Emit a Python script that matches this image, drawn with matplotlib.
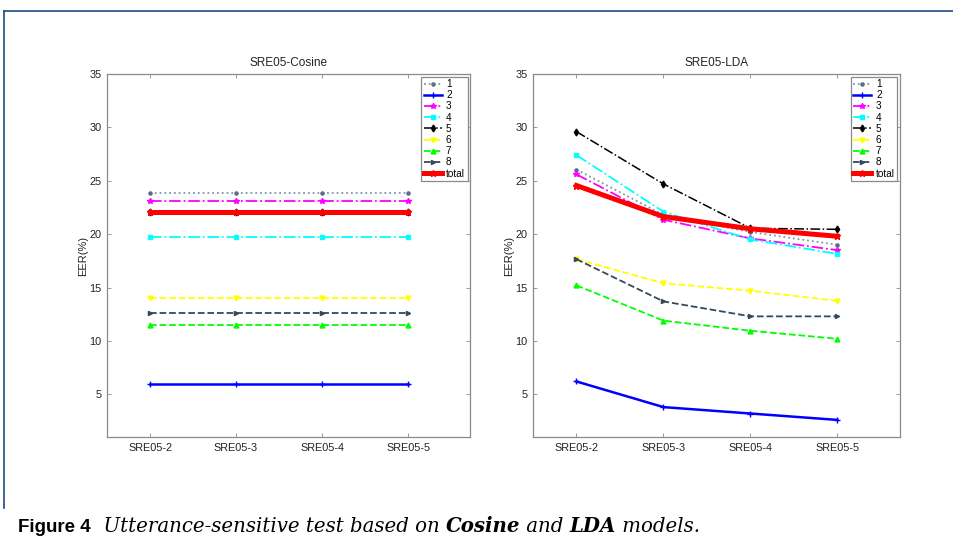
import numpy as np
import matplotlib.pyplot as plt
from matplotlib.offsetbox import TextArea, HPacker, AnchoredOffsetbox
from matplotlib.lines import Line2D

plt.rcParams['font.family'] = ['Liberation Sans', 'DejaVu Sans']

# condicoes de teste (eixo x)
conds = ['SRE05-2', 'SRE05-3', 'SRE05-4', 'SRE05-5']
labels = ['1', '2', '3', '4', '5', '6', '7', '8', 'total']

# EER(%) - modelo Cosine
cos_1 = [23.85, 23.85, 23.85, 23.85]
cos_2 = [5.95, 5.95, 5.95, 5.95]
cos_3 = [23.1, 23.1, 23.1, 23.1]
cos_4 = [19.7, 19.7, 19.7, 19.7]
cos_5 = [22.05, 22.05, 22.05, 22.05]
cos_6 = [14.05, 14.05, 14.05, 14.05]
cos_7 = [11.45, 11.45, 11.45, 11.45]
cos_8 = [12.6, 12.6, 12.6, 12.6]
cos_total = [22.05, 22.05, 22.05, 22.05]

# EER(%) - modelo LDA
lda_1 = [26.05, 21.8, 20.2, 19.0]
lda_2 = [6.2, 3.8, 3.2, 2.6]
lda_3 = [25.6, 21.35, 19.6, 18.5]
lda_4 = [27.4, 22.1, 19.5, 18.15]
lda_5 = [29.6, 24.7, 20.55, 20.45]
lda_6 = [17.65, 15.4, 14.7, 13.75]
lda_7 = [15.2, 11.9, 10.95, 10.2]
lda_8 = [17.65, 13.7, 12.3, 12.3]
lda_total = [24.55, 21.65, 20.5, 19.8]

cosine = [cos_1, cos_2, cos_3, cos_4, cos_5, cos_6, cos_7, cos_8, cos_total]
lda = [lda_1, lda_2, lda_3, lda_4, lda_5, lda_6, lda_7, lda_8, lda_total]

# estilo de cada curva: cor, linha, marcador, espessura, tamanho do marcador
estilos = [
    dict(color='#8494aa', ls=':', marker='.', lw=1.3, ms=4.5, mfc='#5c6c82', mec='#5c6c82'),
    dict(color='#0000ff', ls='-', marker='+', lw=1.8, ms=4),
    dict(color='#ff00ff', ls='-.', marker='*', lw=1.3, ms=4),
    dict(color='#00ffff', ls='-.', marker='s', lw=1.3, ms=3.5),
    dict(color='#000000', ls='-.', marker='d', lw=1.1, ms=3.5),
    dict(color='#ffff00', ls='--', marker='v', lw=1.3, ms=3.5),
    dict(color='#00ff00', ls='--', marker='^', lw=1.3, ms=3.5),
    dict(color='#34495e', ls='--', marker='>', lw=1.3, ms=3),
    dict(color='#ff0000', ls='-', marker='*', lw=3.6, ms=4.5),
]

fig = plt.figure(figsize=(9.54, 5.53), dpi=100)
W, H = 954.0, 553.0

def painel(pos, dados, titulo):
    ax = fig.add_axes(pos)
    x = np.arange(1, len(conds) + 1)
    for d, est, lab in zip(dados, estilos, labels):
        ax.plot(x, d, label=lab, **est)
    ax.set_xlim(0.5, 4.72)
    ax.set_ylim(1, 35)
    ax.set_xticks(x)
    ax.set_xticklabels(conds)
    ax.set_yticks(range(5, 36, 5))
    ax.tick_params(direction='in', length=3, width=0.6, colors='#8a8a8a',
                   labelcolor='#222222', labelsize=7.8, top=True, right=True, pad=4)
    for s in ax.spines.values():
        s.set_color('#8a8a8a')
        s.set_linewidth(0.9)
    ax.set_ylabel('EER(%)', fontsize=8, color='#222222', labelpad=1)
    ax.set_title(titulo, fontsize=8.5, color='#222222', pad=6)
    leg = ax.legend(loc='upper right', fontsize=7.2, labelspacing=0.12,
                    handlelength=1.8, handletextpad=0.45, borderpad=0.25,
                    borderaxespad=0.25, fancybox=False, framealpha=1)
    leg.get_frame().set_edgecolor('#8a8a8a')
    leg.get_frame().set_linewidth(0.9)
    return ax

painel([107 / W, 1 - 437 / H, 363 / W, 363 / H], cosine, 'SRE05-Cosine')
painel([533 / W, 1 - 437 / H, 367 / W, 363 / H], lda, 'SRE05-LDA')

# moldura azul da pagina
cor_moldura = '#1f4a84'
fig.add_artist(Line2D([4 / W, 1.0], [1 - 11 / H, 1 - 11 / H], transform=fig.transFigure,
                      color=cor_moldura, lw=1.2))
fig.add_artist(Line2D([4 / W, 4 / W], [1 - 11 / H, 1 - 508 / H], transform=fig.transFigure,
                      color=cor_moldura, lw=1.2))

# legenda da figura
serif = 'DejaVu Serif'
tam = 14.2
partes = [
    TextArea('Figure 4', textprops=dict(fontsize=13.5, fontweight='bold', family='Liberation Sans')),
    TextArea('  Utterance-sensitive test based on ', textprops=dict(fontsize=tam, style='italic', family=serif)),
    TextArea('Cosine', textprops=dict(fontsize=tam, style='italic', fontweight='bold', family=serif)),
    TextArea(' and ', textprops=dict(fontsize=tam, style='italic', family=serif)),
    TextArea('LDA', textprops=dict(fontsize=tam, style='italic', fontweight='bold', family=serif)),
    TextArea(' models.', textprops=dict(fontsize=tam, style='italic', family=serif)),
]
caixa = HPacker(children=partes, align='baseline', pad=0, sep=0)
ab = AnchoredOffsetbox(loc='lower left', child=caixa, pad=0, borderpad=0, frameon=False,
                       bbox_to_anchor=(18 / W, 1 - 536 / H), bbox_transform=fig.transFigure)
fig.add_artist(ab)

fig.savefig('out.png', dpi=100)
